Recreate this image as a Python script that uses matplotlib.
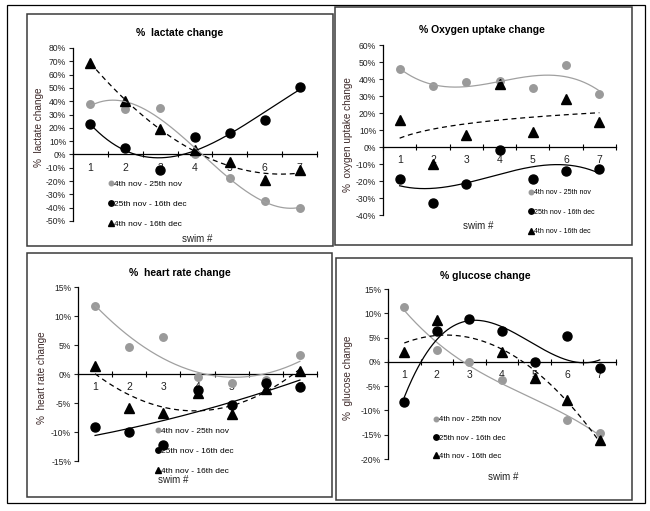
import numpy as np
import matplotlib.pyplot as plt
from matplotlib.patches import Rectangle

plt.rcParams['font.family'] = ['Liberation Sans', 'DejaVu Sans']

W, H = 650, 511

swims = [1, 2, 3, 4, 5, 6, 7]
series_labels = ['4th nov - 25th nov', '25th nov - 16th dec', '4th nov - 16th dec']

lactate_a = [38, 34, 35, 0, -18, -35, -40]
lactate_b = [23, 5, -12, 13, 16, 26, 51]
lactate_c = [69, 40, 19, 3, -6, -19, -12]

oxygen_a = [46, 36, 38, 39, 35, 48, 31]
oxygen_b = [-19, -33, -22, -2, -19, -14, -13]
oxygen_c = [16, -10, 7, 37, 9, 28, 15]

heart_a = [11.8, 4.7, 6.3, -0.5, -1.5, -1.0, 3.2]
heart_b = [-9.2, -10.0, -12.3, -2.7, -5.4, -1.5, -2.3]
heart_c = [1.4, -5.8, -6.8, -3.2, -6.9, -2.5, 0.5]

glucose_a = [11.2, 2.4, 0.0, -3.8, np.nan, -12.0, -14.7]
glucose_b = [-8.2, 6.4, 8.8, 6.4, 0.0, 5.3, -1.3]
glucose_c = [2.0, 8.6, np.nan, 2.0, -3.3, -7.8, -16.0]


def px(x, y):
    return x / W, 1 - y / H


def trend(x, y, kind):
    x = np.asarray(x, float)
    y = np.asarray(y, float)
    ok = ~np.isnan(y)
    xs = np.linspace(1, 7, 200)
    if kind == 'log':
        b, a = np.polyfit(np.log(x[ok]), y[ok], 1)
        return xs, a + b * np.log(xs)
    p = np.polyfit(x[ok], y[ok], kind)
    return xs, np.polyval(p, xs)


panels = [
    dict(title='%  lactate change', ylabel='%  lactate change', data=(lactate_a, lactate_b, lactate_c),
         fits=(3, 3, 2), ylim=(-50, 80), step=10, rect=(73, 317, 48, 221),
         title_xy=(180, 33), ylab_xy=(39, 127), swim_xy=(197, 239),
         leg_xy=(109, 204), leg_fs=6, leg_sp=1.5),
    dict(title='% Oxygen uptake change', ylabel='%  oxygen uptake change', data=(oxygen_a, oxygen_b, oxygen_c),
         fits=(3, 3, 'log'), ylim=(-40, 60), step=10, rect=(383, 616, 45, 215),
         title_xy=(482, 30), ylab_xy=(348, 135), swim_xy=(478, 226),
         leg_xy=(529, 212), leg_fs=5, leg_sp=1.8),
    dict(title='%  heart rate change', ylabel='%  heart rate change', data=(heart_a, heart_b, heart_c),
         fits=(2, 2, 2), ylim=(-15, 15), step=5, rect=(78, 317, 287, 461),
         title_xy=(180, 273), ylab_xy=(42, 378), swim_xy=(173, 480),
         leg_xy=(156, 451), leg_fs=6, leg_sp=1.5),
    dict(title='% glucose change', ylabel='%  glucose change', data=(glucose_a, glucose_b, glucose_c),
         fits=(3, 3, 2), ylim=(-20, 15), step=5, rect=(388, 616, 289, 459),
         title_xy=(485, 276), ylab_xy=(348, 378), swim_xy=(503, 477),
         leg_xy=(434, 438), leg_fs=5.6, leg_sp=1.4),
]

styles = [
    dict(marker='o', color='#9a9a9a', ms=5.4, line=dict(color='#a0a0a0', ls='-', lw=0.9)),
    dict(marker='o', color='black', ms=6.5, line=dict(color='black', ls='-', lw=0.9)),
    dict(marker='^', color='black', ms=6.5, line=dict(color='black', ls=(0, (4, 3)), lw=0.9)),
]

fig = plt.figure(figsize=(W / 100, H / 100), dpi=100)

# outer frame and panel frames
fig.add_artist(Rectangle(px(7, 503), 638 / W, 498 / H, transform=fig.transFigure,
                         fill=False, ec='black', lw=0.9))
for x0, x1, y0, y1 in [(27, 333, 14, 246), (335, 632, 7, 245), (27, 332, 253, 497), (336, 632, 258, 500)]:
    fig.add_artist(Rectangle(px(x0, y1), (x1 - x0) / W, (y1 - y0) / H, transform=fig.transFigure,
                             fill=False, ec='#3a3a3a', lw=1.1))

for p in panels:
    x0, x1, y0, y1 = p['rect']
    ax = fig.add_axes([x0 / W, 1 - y1 / H, (x1 - x0) / W, (y1 - y0) / H])
    ax.set_facecolor('none')
    handles = []
    for vals, kind, st in zip(p['data'], p['fits'], styles):
        h, = ax.plot(swims, vals, ls='none', marker=st['marker'], color=st['color'],
                     ms=st['ms'], zorder=3)
        handles.append(h)
        xs, ys = trend(swims, vals, kind)
        ax.plot(xs, ys, zorder=4, **st['line'])

    lo, hi = p['ylim']
    ax.set_xlim(0.5, 7.5)
    ax.set_ylim(lo, hi)
    ax.set_yticks(np.arange(lo, hi + 0.1, p['step']))
    ax.set_yticklabels([f'{v:.0f}%' for v in np.arange(lo, hi + 0.1, p['step'])])
    ax.set_xticks(swims)
    ax.set_xticks(np.arange(0.5, 7.6, 1), minor=True)
    ax.tick_params(axis='x', which='major', length=0, pad=6, labelsize=7.5, colors='#222222')
    ax.tick_params(axis='x', which='minor', length=4, direction='inout', width=0.8)
    ax.tick_params(axis='y', length=3, width=0.8, pad=2, labelsize=6.2, colors='#222222')
    ax.spines['top'].set_visible(False)
    ax.spines['right'].set_visible(False)
    ax.spines['bottom'].set_position(('data', 0))
    ax.spines['left'].set_linewidth(0.9)
    ax.spines['bottom'].set_linewidth(0.9)

    ax.legend(handles, series_labels, loc='center left',
              bbox_to_anchor=px(*p['leg_xy']), bbox_transform=fig.transFigure,
              frameon=False, fontsize=p['leg_fs'], handlelength=0.5, handletextpad=0.15,
              labelspacing=p['leg_sp'], markerscale=0.6, borderpad=0, borderaxespad=0)

    fig.text(*px(*p['title_xy']), p['title'], ha='center', va='center', fontsize=7.5, fontweight='bold')
    fig.text(*px(*p['ylab_xy']), p['ylabel'], ha='center', va='center', rotation=90,
             fontsize=7.2, color='#3e2a2a')
    fig.text(*px(*p['swim_xy']), 'swim #', ha='center', va='center', fontsize=7, color='#222222')

fig.savefig('out.png', dpi=100)
